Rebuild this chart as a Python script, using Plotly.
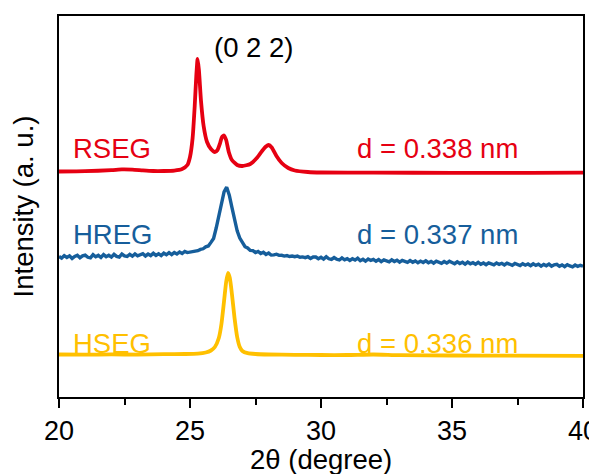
import plotly.graph_objects as go

# ---------------- data (arbitrary intensity units) ----------------
rseg_two_theta = [20.0, 21.0, 22.0, 22.4, 22.8, 23.2, 23.6, 24.0, 24.4, 24.7, 24.9, 25.0, 25.1, 25.18,
                  25.24, 25.29, 25.34, 25.42, 25.52, 25.65, 25.8, 25.95, 26.05, 26.15, 26.22, 26.3,
                  26.38, 26.48, 26.6, 26.8, 27.0, 27.3, 27.55, 27.75, 27.9, 28.0, 28.12, 28.3, 28.5,
                  28.75, 29.0, 29.5, 30.0, 32.0, 35.0, 38.0, 40.0]
rseg_intensity = [234.5, 234.8, 235.8, 236.6, 236.4, 235.6, 235.0, 235.0, 235.4, 237.0, 241, 249, 268, 300,
                  330, 347, 336, 305, 280, 264, 257, 254, 256, 263, 269, 270.5,
                  266, 254, 246, 241, 240, 242, 248, 255, 259.5, 261, 258.5, 250, 243,
                  238, 235.5, 234, 233.5, 233.3, 233.2, 233.2, 233.3]

hreg_start, hreg_step = 20.0, 0.1
hreg_intensity = [
    149.5, 147.8, 150.4, 148.6, 150.2, 147.6, 149.6, 150.8, 148.2, 150.1,
    150.9, 148.7, 148.1, 151.3, 149.2, 150.6, 148.5, 151.4, 149.3, 150.7,
    148.9, 151.7, 149.6, 149.0, 152.0, 150.1, 149.5, 151.6, 149.8, 152.1,
    150.2, 151.5, 152.3, 150.0, 151.9, 150.4, 152.7, 150.6, 152.3, 150.4,
    152.8, 151.2, 153.3, 151.4, 153.5, 152.0, 154.0, 152.5, 154.6, 153.4,
    153.9, 154.5, 154.6, 155.3, 156.6, 157.2, 159.2, 160.0, 163.6, 167.5,
    178.0, 190.5, 203.6, 214.2, 218.8, 210.8, 198.7, 186.4, 175.2, 167.9,
    163.4, 159.3, 158.1, 155.6, 155.4, 153.4, 154.5, 152.5, 153.7, 151.6,
    152.9, 150.9, 151.1, 151.8, 150.6, 150.7, 149.9, 150.4, 149.5, 150.0,
    149.3, 149.9, 148.8, 149.1, 148.4, 149.3, 147.6, 149.1, 149.0, 147.3,
    148.7, 146.9, 149.2, 147.2, 146.5, 148.4, 146.7, 146.0, 148.1, 146.2,
    147.4, 145.5, 147.2, 145.9, 147.8, 145.3, 146.7, 144.8, 147.0, 145.6,
    146.6, 144.7, 146.4, 144.4, 146.1, 144.9, 144.1, 146.2, 144.5, 145.8,
    143.9, 145.6, 144.3, 143.6, 145.4, 143.7, 145.1, 143.2, 144.9, 143.5,
    145.2, 143.3, 144.6, 142.8, 144.8, 143.4, 142.6, 144.4, 142.9, 144.7,
    143.8, 142.3, 144.2, 142.5, 143.7, 141.9, 143.9, 142.2, 143.3, 141.8,
    143.6, 141.7, 143.0, 141.3, 143.2, 142.0, 141.2, 143.1, 141.6, 142.7,
    141.0, 142.9, 141.5, 140.7, 142.5, 141.1, 140.5, 142.3, 140.8, 142.0,
    140.3, 142.2, 140.6, 141.8, 139.9, 141.6, 140.2, 141.9, 139.8, 141.2,
    141.7, 139.7, 141.1, 139.3, 141.3, 140.0, 139.2, 141.0, 139.6, 140.7,
    139.8]
hreg_two_theta = [round(hreg_start + hreg_step * i, 2) for i in range(len(hreg_intensity))]

hseg_two_theta = [20.0, 21.0, 22.0, 23.0, 24.0, 24.8, 25.3, 25.6, 25.8, 25.95, 26.1, 26.2, 26.3,
                  26.38, 26.45, 26.52, 26.6, 26.7, 26.8, 26.9, 27.0, 27.2, 27.5, 28.0, 29.0, 30.0,
                  31.0, 32.0, 33.0, 35.0, 37.0, 40.0]
hseg_intensity = [51.5, 51.3, 51.6, 51.4, 51.8, 52.0, 52.4, 53.5, 55.5, 59, 68, 82, 105,
                  124, 133, 128, 112, 88, 69, 59, 55, 52.8, 52.0, 51.5, 51.2, 51.0,
                  51.0, 51.5, 50.8, 50.5, 50.4, 50.2]

sample_names = ["RSEG", "HREG", "HSEG"]
d_labels = ["d = 0.338 nm", "d = 0.337 nm", "d = 0.336 nm"]
label_levels = [258, 172, 63]
colors = ["#E60012", "#165E9B", "#FFC000"]
x_ticks = [20, 25, 30, 35, 40]
peak_label = "(0 2 2)"
peak_label_pos = (27.42, 359)
x_title = "2θ (degree)"
y_title = "Intensity (a. u.)"

# ---------------- figure ----------------
# the page body has an 8 px default margin, so the figure is sized to fill the rest of the window
FONT = "Liberation Sans, Arial, sans-serif"
FS = 27.5
fig = go.Figure()
fig.add_trace(go.Scatter(x=rseg_two_theta, y=rseg_intensity, mode="lines",
                         line=dict(color=colors[0], width=3.8, shape="spline", smoothing=0.5),
                         name=sample_names[0]))
fig.add_trace(go.Scatter(x=hreg_two_theta, y=hreg_intensity, mode="lines",
                         line=dict(color=colors[1], width=3.4),
                         name=sample_names[1]))
fig.add_trace(go.Scatter(x=hseg_two_theta, y=hseg_intensity, mode="lines",
                         line=dict(color=colors[2], width=3.8, shape="spline", smoothing=0.6),
                         name=sample_names[2]))

for name, dl, lev, col in zip(sample_names, d_labels, label_levels, colors):
    fig.add_annotation(x=20.46, y=lev, text=name, showarrow=False, xanchor="left",
                       yanchor="middle", font=dict(family=FONT, size=FS, color=col))
    fig.add_annotation(x=31.31, y=lev, text=dl, showarrow=False, xanchor="left",
                       yanchor="middle", font=dict(family=FONT, size=FS, color=col))
fig.add_annotation(x=peak_label_pos[0], y=peak_label_pos[1], text=peak_label, showarrow=False,
                   xanchor="center", yanchor="middle", font=dict(family=FONT, size=FS, color="black"))

# x-axis title placed as a paper annotation so it can sit as low as in the original
fig.add_annotation(x=0.5, y=0, xref="paper", yref="paper", yshift=-62, text=x_title,
                   showarrow=False, xanchor="center", yanchor="middle",
                   font=dict(family=FONT, size=FS, color="black"))

fig.update_layout(
    width=589, height=466,
    margin=dict(l=51, r=14, t=8, b=77),
    plot_bgcolor="white", paper_bgcolor="white",
    showlegend=False,
    font=dict(family=FONT, size=FS, color="black"),
)
fig.update_xaxes(range=[20, 40], tickvals=x_ticks, ticks="outside", ticklen=9, tickwidth=2,
                 tickcolor="black", showline=True, linecolor="black", linewidth=2, mirror=True,
                 showgrid=False, zeroline=False, automargin=False, ticklabeloverflow="allow",
                 minor=dict(dtick=2.5, ticks="outside", ticklen=6, tickwidth=2, tickcolor="black"),
                 tickfont=dict(family=FONT, size=27))
fig.update_yaxes(range=[9, 390], showticklabels=False, ticks="", showline=True, linecolor="black",
                 linewidth=2, mirror=True, showgrid=False, zeroline=False, automargin=False,
                 title=dict(text=y_title, font=dict(family=FONT, size=FS), standoff=15))

fig.write_html("out.html")
